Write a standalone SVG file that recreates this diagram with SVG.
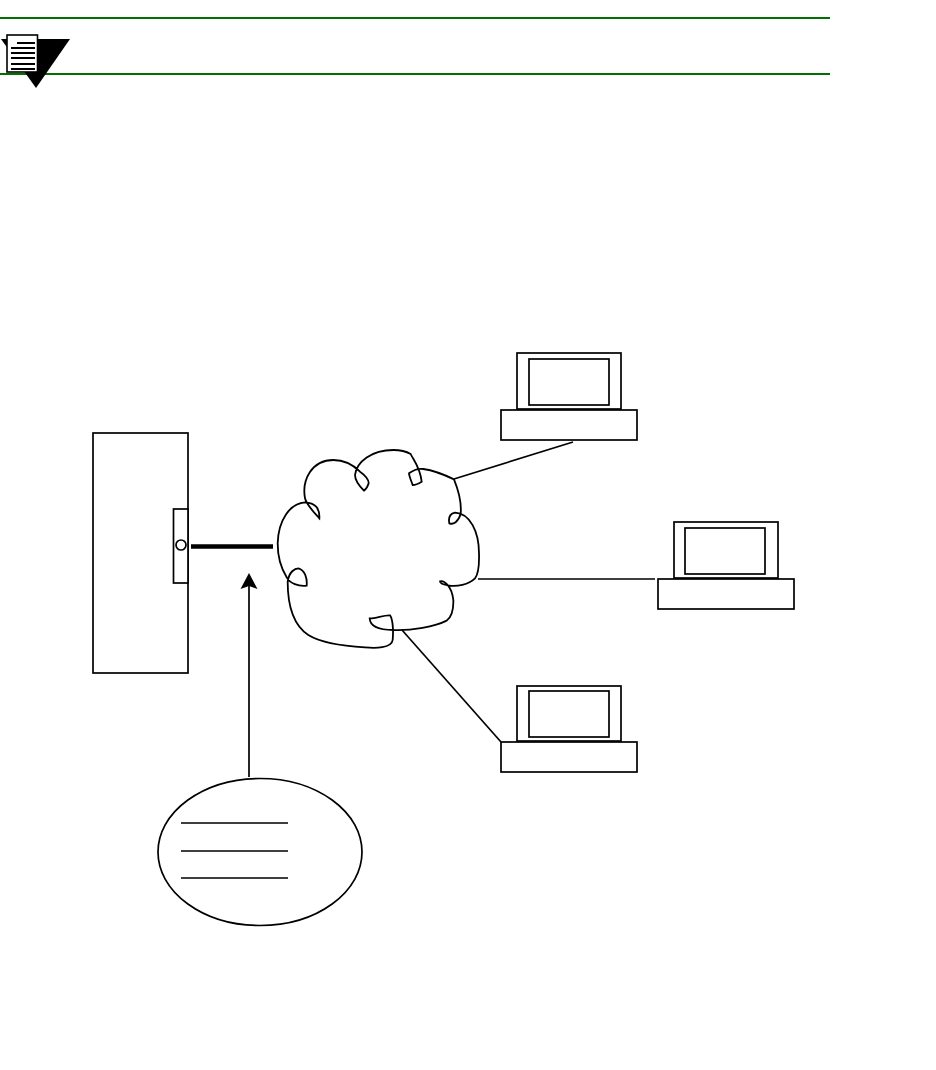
<svg xmlns="http://www.w3.org/2000/svg" width="936" height="1070" viewBox="0 0 936 1070">
<style>
.o{fill:#fff;stroke:#000;stroke-width:1.700}
.l{fill:none;stroke:#000;stroke-width:1.700}
.g{stroke:#007000;stroke-width:2}
.n{stroke:#000;stroke-width:2}
</style>
<rect width="936" height="1070" fill="#fff"/>
<g id="note">
<line class="g" x1="0" y1="18" x2="830" y2="18"/>
<line class="g" x1="0" y1="74" x2="830" y2="74"/>
<polygon points="1,39 70,39 36,88" fill="#000"/>
<rect x="7" y="35" width="30.500" height="37" fill="#fff" stroke="#000" stroke-width="1.600"/>
<path class="n" d="M17 43H35M11 48H35M11 53H35M11 58H35M11 64H35M11 69H35"/>
</g>
<g id="connectors">
<line class="l" x1="454" y1="479" x2="573" y2="442"/>
<line class="l" x1="478" y1="579" x2="655" y2="579"/>
<line class="l" x1="402" y1="630" x2="501" y2="742"/>
<line x1="191" y1="546.500" x2="273" y2="546.500" stroke="#000" stroke-width="4.500"/>
<line class="l" x1="249" y1="777" x2="249" y2="585"/>
<path d="M249 573L257.500 589L249 586L240.500 589Z" fill="#000"/>
</g>
<g id="server">
<rect class="o" x="93" y="433" width="95" height="240"/>
<rect class="o" x="173.500" y="509" width="14.500" height="74"/>
<circle class="o" cx="181" cy="545" r="5"/>
</g>
<g id="cloud">
<path transform="translate(265 440) scale(.33333)" fill="none" stroke="#000" stroke-width="5.400" d="M567 118C580 150 590 190 587 222C580 245 565 255 553 250C550 235 552 222 570 218C615 220 642 275 642 340C643 375 642 400 630 415C610 435 575 440 553 437C540 435 525 430 525 424C535 420 560 435 565 480C566 510 560 530 545 542C510 560 440 572 385 570C345 570 315 560 314 535C335 535 355 525 375 526C385 540 385 580 383 600C380 625 330 625 300 622C230 618 170 610 130 585C85 555 68 500 68 425C72 395 90 385 100 385C120 390 127 415 125 437C100 440 75 430 65 412C45 380 38 340 38 310C40 240 75 190 120 187C150 188 165 205 163 235C145 215 125 195 120 175C110 120 140 60 205 60C235 60 265 75 285 95C300 105 312 120 311 130C308 140 300 150 297 152C285 140 270 125 270 105C275 65 320 30 385 30C405 30 425 35 437 42C445 60 465 80 470 125C462 130 450 135 443 135C438 120 432 108 432 100C445 90 460 85 475 87C510 92 540 105 567 118Z"/>
</g>
<g id="laptop1">
<rect class="o" x="517" y="353" width="104" height="56"/>
<rect class="o" x="529" y="359" width="80" height="46"/>
<rect class="o" x="501" y="410" width="136" height="30"/>
</g>
<g id="laptop2">
<rect class="o" x="674" y="522" width="104" height="56"/>
<rect class="o" x="685" y="528" width="80" height="46"/>
<rect class="o" x="658" y="579" width="136" height="30"/>
</g>
<g id="laptop3">
<rect class="o" x="517" y="686" width="104" height="55"/>
<rect class="o" x="529" y="691" width="80" height="46"/>
<rect class="o" x="501" y="742" width="136" height="30"/>
</g>
<g id="callout">
<ellipse class="o" cx="260" cy="852" rx="102" ry="73.500"/>
<path class="l" d="M181 823H288M181 851H288M181 878H288"/>
</g>
</svg>
